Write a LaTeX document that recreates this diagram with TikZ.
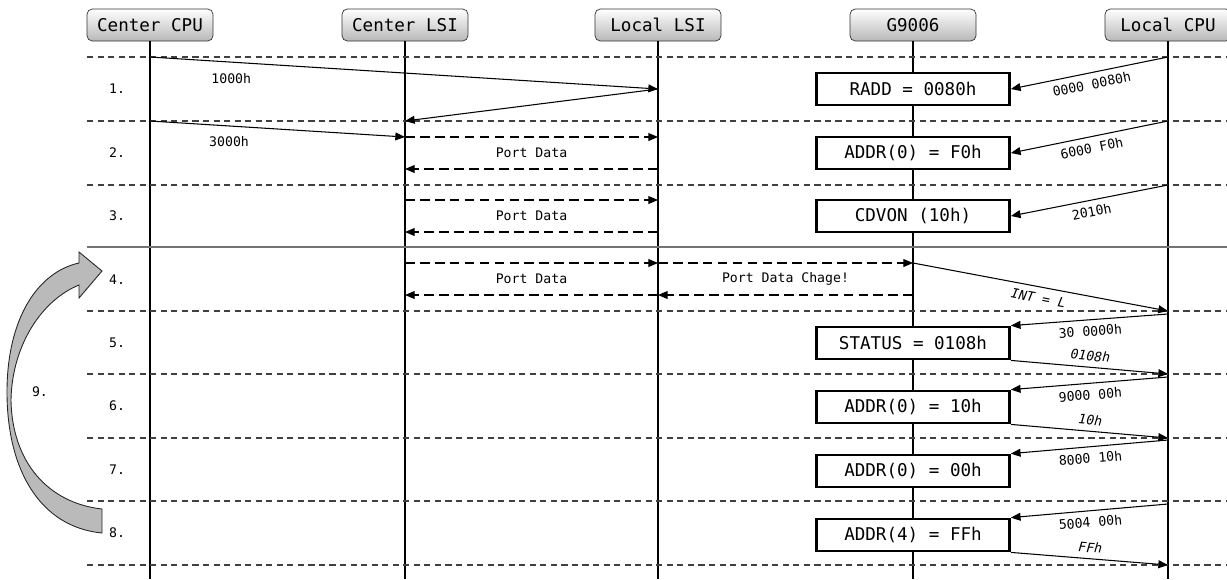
\documentclass[tikz,border=0pt]{standalone}
\usepackage{fontspec}
\setmonofont{DejaVu Sans Mono}
\usetikzlibrary{arrows.meta, positioning, calc}

\begin{document}
\begin{tikzpicture}[x=0.02cm, y=-0.02cm,
  actor/.style={draw=black!80, rounded corners=3pt, top color=white,
    bottom color=black!28, minimum width=2.52cm, minimum height=0.64cm,
    inner sep=0pt, font=\ttfamily\fontsize{10}{12}\selectfont},
  regbox/.style={draw, line width=1.6pt, fill=white, minimum width=3.86cm,
    minimum height=0.64cm, inner sep=0pt,
    font=\ttfamily\fontsize{10}{12}\selectfont},
  lbl/.style={font=\ttfamily\fontsize{7.5}{9}\selectfont},
  resp/.style={font=\ttfamily\itshape\fontsize{7.5}{9}\selectfont},
  msg/.style={-{Triangle[length=5.5pt,width=4.5pt]}, line width=0.6pt},
  data/.style={msg, dash pattern=on 5.5pt off 3pt},
  sep/.style={black!75, line width=0.6pt, dash pattern=on 3.5pt off 2.5pt},
  life/.style={line width=0.6pt}]

  \useasboundingbox (0,0) rectangle (1227,579);

  % actors
  \node[actor] (cc) at (150,25) {Center CPU};
  \node[actor] (cl) at (405,25) {Center LSI};
  \node[actor] (ll) at (658,25) {Local LSI};
  \node[actor] (g) at (913,25) {G9006};
  \node[actor] (lc) at (1168,25) {Local CPU};

  % life lines
  \foreach \n in {cc,cl,ll,g,lc}
    \draw[life] (\n.south) -- (\n |- 0,579);

  % row separators
  \foreach \y in {57,121,185,311,374,438,501,565}
    \draw[sep] (87,\y) -- (1227,\y);
  \draw[black!55, line width=0.6pt] (87,247) -- (1227,247);

  % row numbers
  \foreach \i/\y in {1/89,2/153,3/216,4/280,5/343,6/406,7/470,8/533}
    \node[lbl] (r\i) at (117,\y) {\i.};

  % G9006 registers
  \node[regbox] (b1) at (g |- 0,89) {RADD = 0080h};
  \node[regbox] (b2) at (g |- 0,153) {ADDR(0) = F0h};
  \node[regbox] (b3) at (g |- 0,216) {CDVON (10h)};
  \node[regbox] (b5) at (g |- 0,343) {STATUS = 0108h};
  \node[regbox] (b6) at (g |- 0,407) {ADDR(0) = 10h};
  \node[regbox] (b7) at (g |- 0,471) {ADDR(0) = 00h};
  \node[regbox] (b8) at (g |- 0,535) {ADDR(4) = FFh};

  % 1.
  \draw[msg] (cc |- 0,57) -- (ll |- 0,89) node[lbl, pos=0.16, yshift=-9.5pt] {1000h};
  \draw[msg] (ll |- 0,89) -- (cl |- 0,121);
  \draw[msg] (lc |- 0,57) -- (b1.east) node[lbl, midway, below, sloped] {0000 0080h};

  % 2.
  \draw[msg] (cc |- 0,121) -- (cl |- 0,137) node[lbl, pos=0.31, yshift=-9pt] {3000h};
  \draw[data] (cl |- 0,137) -- (ll |- 0,137) node[lbl, midway, yshift=-9pt] {Port Data};
  \draw[data] (ll |- 0,169) -- (cl |- 0,169);
  \draw[msg] (lc |- 0,121) -- (b2.east) node[lbl, midway, below, sloped] {6000 F0h};

  % 3.
  \draw[data] (cl |- 0,200) -- (ll |- 0,200) node[lbl, midway, yshift=-9pt] {Port Data};
  \draw[data] (ll |- 0,232) -- (cl |- 0,232);
  \draw[msg] (lc |- 0,185) -- (b3.east) node[lbl, midway, below, sloped] {2010h};

  % 4.
  \draw[data] (cl |- 0,263) -- (ll |- 0,263) node[lbl, midway, yshift=-9pt] {Port Data};
  \draw[data] (ll |- 0,263) -- (g |- 0,263) node[lbl, midway, yshift=-9pt] {Port Data Chage!};
  \draw[data] (g |- 0,295) -- (ll |- 0,295);
  \draw[data] (ll |- 0,295) -- (cl |- 0,295);
  \draw[msg] (g |- 0,263) -- (lc |- 0,311) node[resp, midway, below, sloped] {INT = L};

  % 5.
  \draw[msg] (lc |- 0,314) -- (b5.north east) node[lbl, midway, below, sloped] {30 0000h};
  \draw[msg] (b5.south east) -- (lc |- 0,374) node[resp, midway, above, sloped] {0108h};

  % 6.
  \draw[msg] (lc |- 0,377) -- (b6.north east) node[lbl, midway, below, sloped] {9000 00h};
  \draw[msg] (b6.south east) -- (lc |- 0,438) node[resp, midway, above, sloped] {10h};

  % 7.
  \draw[msg] (lc |- 0,440) -- (b7.north east) node[lbl, midway, below, sloped] {8000 10h};

  % 8.
  \draw[msg] (lc |- 0,504) -- (b8.north east) node[lbl, midway, below, sloped] {5004 00h};
  \draw[msg] (b8.south east) -- (lc |- 0,565) node[resp, midway, above, sloped] {FFh};

  % 9. loop back
  \filldraw[fill=black!27, draw=black!85, line width=0.5pt]
    (102,533) .. controls (40,527) and (7,470) .. (7,392)
    .. controls (7,318) and (38,272) .. (79,263)
    -- (79,252) -- (102,271) -- (79,298) -- (79,285)
    .. controls (42,300) and (12,345) .. (11,400)
    .. controls (12,462) and (48,503) .. (102,509) -- cycle;
  \node[lbl] (r9) at (40,392) {9.};
\end{tikzpicture}
\end{document}
